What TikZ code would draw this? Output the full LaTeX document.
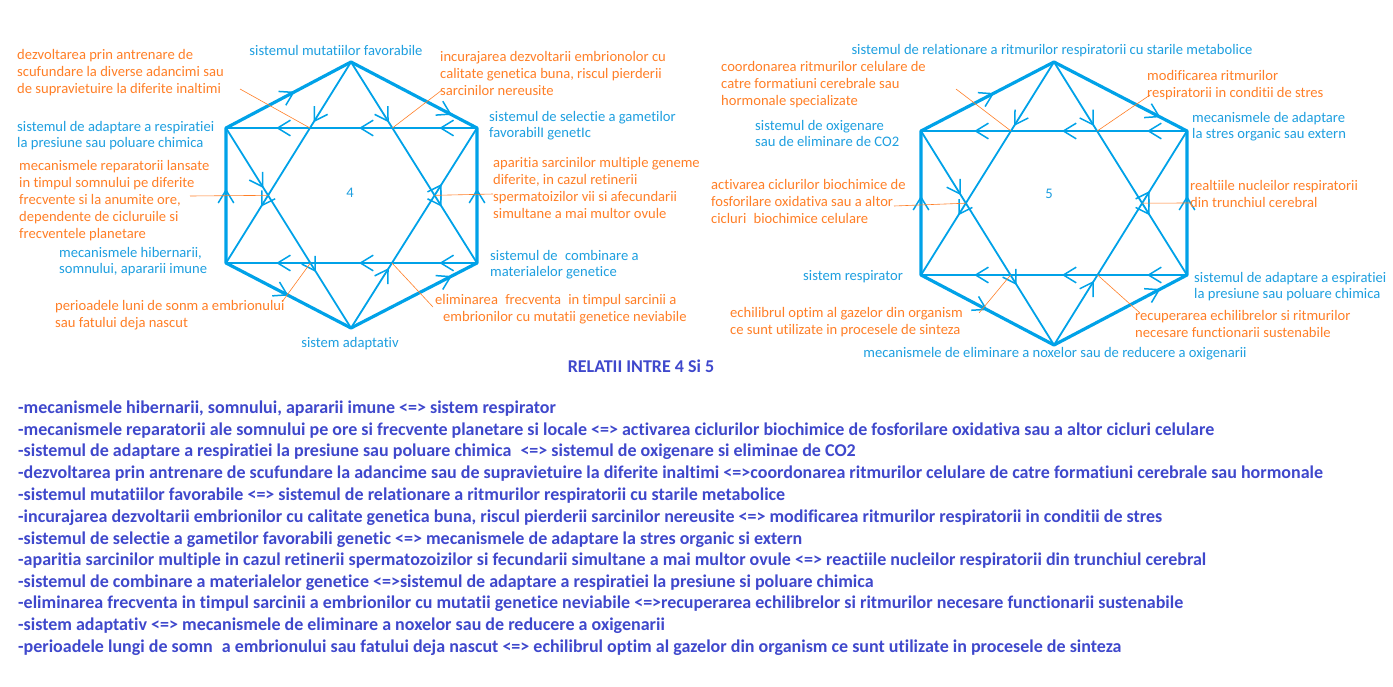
\documentclass[tikz,border=0pt]{standalone}
\usepackage{fontspec}
\setmainfont{Carlito}[Ligatures=NoCommon]
\usetikzlibrary{arrows.meta,decorations.markings}
\definecolor{cy}{HTML}{00A2E8}
\definecolor{cyt}{HTML}{1E9FE0}
\definecolor{org}{HTML}{FF7F27}
\definecolor{pur}{HTML}{3F48CC}
\tikzset{
  ar/.style={postaction={decorate,decoration={markings,mark=at position #1 with {\arrow{Straight Barb[length=4.5mm,width=5.5mm,line width=1.5pt]}}}}},
  hexe/.style={draw=cy,line width=3.2pt,line join=round},
  stl/.style={draw=cy,line width=1.8pt},
  lead/.style={draw=org,line width=0.6pt},
  ol/.style={text=org,font=\fontsize{14.6}{17}\selectfont,anchor=west,align=left,inner sep=0pt},
  bl/.style={text=cyt,font=\fontsize{14.6}{16}\selectfont,anchor=west,align=left,inner sep=0pt},
  li/.style={text=pur,font=\bfseries\fontsize{18}{20}\selectfont,anchor=west,inner sep=0pt},
}
\newcommand{\hexstar}[8]{%
  \coordinate (#1t) at (#3,#5);
  \coordinate (#1ul) at (#2,#6);
  \coordinate (#1ur) at (#4,#6);
  \coordinate (#1ll) at (#2,#7);
  \coordinate (#1lr) at (#4,#7);
  \coordinate (#1b) at (#3,#8);
  \draw[hexe] (#1t)--(#1ul)--(#1ll)--(#1b)--(#1lr)--(#1ur)--cycle;
  \draw[stl,ar=0.3,ar=0.72] (#1t)--(#1ll);
  \draw[stl,ar=0.3,ar=0.72] (#1t)--(#1lr);
  \draw[stl,ar=0.3,ar=0.72] (#1ul)--(#1b);
  \draw[stl,ar=0.3,ar=0.72] (#1b)--(#1ur);
  \draw[stl,ar=0.15,ar=0.47,ar=0.8] (#1ur)--(#1ul);
  \draw[stl,ar=0.15,ar=0.47,ar=0.8] (#1lr)--(#1ll);
  \path[ar=0.55] (#1ll)--(#1ul);
  \path[ar=0.55] (#1lr)--(#1ur);
  \path[ar=0.55] (#1ul)--(#1t);
  \path[ar=0.8] (#1t)--(#1ur);
  \path[ar=0.5] (#1ll)--(#1b);
  \path[ar=0.8] (#1b)--(#1lr);
  \coordinate (#1xa) at (intersection of #1t--#1ll and #1ul--#1ur);
  \coordinate (#1xb) at (intersection of #1t--#1lr and #1ul--#1ur);
  \coordinate (#1xc) at (intersection of #1t--#1ll and #1ul--#1b);
  \coordinate (#1xd) at (intersection of #1t--#1lr and #1b--#1ur);
  \coordinate (#1xe) at (intersection of #1ul--#1b and #1ll--#1lr);
  \coordinate (#1xf) at (intersection of #1b--#1ur and #1ll--#1lr);
}
\begin{document}
\begin{tikzpicture}[x=1pt,y=-1pt,cy]
\useasboundingbox (0,0) rectangle (1393,686);
\fill[white] (0,0) rectangle (1393,686);
\hexstar{L}{226}{351}{477}{62}{128}{263}{328}
\hexstar{R}{921}{1054}{1187}{62}{131}{275}{345}
% left labels
\node[ol] (l1) at (17,73) {dezvoltarea prin antrenare de\\scufundare la diverse adancimi sau\\de supravietuire la diferite inaltimi};
\node[bl,anchor=center] (l2) at (336,50) {sistemul mutatiilor favorabile};
\node[ol] (l3) at (440,73) {incurajarea dezvoltarii embrionolor cu\\calitate genetica buna, riscul pierderii\\sarcinilor nereusite};
\node[bl] (l4) at (489,126) {sistemul de selectie a gametilor\\favorabilI genetIc};
\node[bl] (l5) at (17,136) {sistemul de adaptare a respiratiei\\la presiune sau poluare chimica};
\node[ol] (l6) at (19,201) {mecanismele reparatorii lansate\\in timpul somnului pe diferite\\frecvente si la anumite ore,\\dependente de cicluruile si\\frecventele planetare};
\node[ol] (l7) at (493,188) {aparitia sarcinilor multiple geneme\\diferite, in cazul retinerii\\spermatoizilor vii si afecundarii\\simultane a mai multor ovule};
\node[bl,anchor=center] (l8) at (350,193) {4};
\node[bl] (l9) at (59,262) {mecanismele hibernarii,\\somnului, apararii imune};
\node[bl] (l10) at (490,265) {sistemul de\enspace combinare a\\materialelor genetice};
\node[ol] (l11) at (55,315) {perioadele luni de sonm a embrionului\\sau fatului deja nascut};
\node[ol] (l12) at (435,309) {eliminarea\enspace frecventa\enspace in timpul sarcinii a\\\hspace*{8pt}embrionilor cu mutatii genetice neviabile};
\node[bl,anchor=center] (l13) at (350,344) {sistem adaptativ};
\draw[lead] (240,89) -- (Lxa);
\draw[lead] (442,90) -- (Lxb);
\draw[lead] (190,196) -- (Lxc);
\draw[lead] (Lxd) -- (493,194);
\draw[lead] (282,302) -- (Lxe);
\draw[lead] (Lxf) -- (433,307);
% right labels
\node[bl,anchor=center] (r1) at (1052,51) {sistemul de relationare a ritmurilor respiratorii cu starile metabolice};
\node[ol] (r2) at (721,85) {coordonarea ritmurilor celulare de\\catre formatiuni cerebrale sau\\hormonale specializate};
\node[ol] (r3) at (1147,85) {modificarea ritmurilor\\respiratorii in conditii de stres};
\node[bl] (r4) at (1192,127) {mecanismele de adaptare\\la stres organic sau extern};
\node[bl] (r5) at (755,133) {sistemul de oxigenare\\sau de eliminare de CO2};
\node[ol] (r6) at (711,201) {activarea ciclurilor biochimice de\\fosforilare oxidativa sau a altor\\cicluri\enspace biochimice celulare};
\node[bl,anchor=center] (r7) at (1049,194) {5};
\node[ol] (r8) at (1190,194) {realtiile nucleilor respiratorii\\din trunchiul cerebral};
\node[bl] (r9) at (803,277) {sistem respirator};
\node[bl] (r10) at (1194,287) {sistemul de adaptare a espiratiei\\la presiune sau poluare chimica};
\node[ol] (r11) at (730,322) {echilibrul optim al gazelor din organism\\ce sunt utilizate in procesele de sinteza};
\node[ol] (r12) at (1135,324) {recuperarea echilibrelor si ritmurilor\\necesare functionarii sustenabile};
\node[bl,anchor=center] (r13) at (1055,354) {mecanismele de eliminare a noxelor sau de reducere a oxigenarii};
\draw[lead] (956,89) -- (Rxa);
\draw[lead] (1150,95) -- (Rxb);
\draw[lead] (894,206) -- (Rxc);
\draw[lead] (Rxd) -- (1190,203);
\draw[lead] (979,313) -- (Rxe);
\draw[lead] (Rxf) -- (1140,313);
\node[li,anchor=center] (t) at (641,366) {RELATII INTRE 4 Si 5};
% list
\node[li] (p1) at (18,409) {-mecanismele hibernarii, somnului, apararii imune <=> sistem respirator};
\node[li] (p2) at (18,431) {-mecanismele reparatorii ale somnului pe ore si frecvente planetare si locale <=> activarea ciclurilor biochimice de fosforilare oxidativa sau a altor cicluri celulare};
\node[li] (p3) at (18,452) {-sistemul de adaptare a respiratiei la presiune sau poluare chimica\enspace <=> sistemul de oxigenare si eliminae de CO2};
\node[li] (p4) at (18,474) {-dezvoltarea prin antrenare de scufundare la adancime sau de supravietuire la diferite inaltimi <=>coordonarea ritmurilor celulare de catre formatiuni cerebrale sau hormonale};
\node[li] (p5) at (18,496) {-sistemul mutatiilor favorabile <=> sistemul de relationare a ritmurilor respiratorii cu starile metabolice};
\node[li] (p6) at (18,518) {-incurajarea dezvoltarii embrionilor cu calitate genetica buna, riscul pierderii sarcinilor nereusite <=> modificarea ritmurilor respiratorii in conditii de stres};
\node[li] (p7) at (18,540) {-sistemul de selectie a gametilor favorabili genetic <=> mecanismele de adaptare la stres organic si extern};
\node[li] (p8) at (18,561) {-aparitia sarcinilor multiple in cazul retinerii spermatozoizilor si fecundarii simultane a mai multor ovule <=> reactiile nucleilor respiratorii din trunchiul cerebral};
\node[li] (p9) at (18,583) {-sistemul de combinare a materialelor genetice <=>sistemul de adaptare a respiratiei la presiune si poluare chimica};
\node[li] (p10) at (18,604) {-eliminarea frecventa in timpul sarcinii a embrionilor cu mutatii genetice neviabile <=>recuperarea echilibrelor si ritmurilor necesare functionarii sustenabile};
\node[li] (p11) at (18,626) {-sistem adaptativ <=> mecanismele de eliminare a noxelor sau de reducere a oxigenarii};
\node[li] (p12) at (18,648) {-perioadele lungi de somn\enspace a embrionului sau fatului deja nascut <=> echilibrul optim al gazelor din organism ce sunt utilizate in procesele de sinteza};
\end{tikzpicture}
\end{document}
